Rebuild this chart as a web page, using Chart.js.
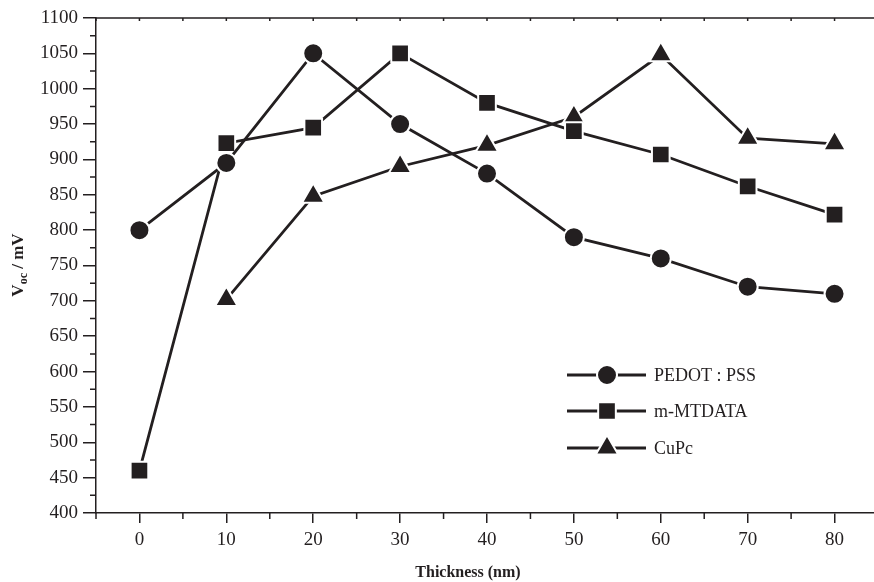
<!DOCTYPE html>
<html>
<head>
<meta charset="utf-8">
<script src="https://cdn.jsdelivr.net/npm/chart.js@4/dist/chart.umd.min.js"></script>
<style>
  html, body { margin: 0; padding: 0; background: #fff; overflow: hidden; }
  #wrap { width: 893px; height: 582px; }
</style>
</head>
<body>
<div id="wrap"><canvas id="myChart" width="893" height="582"></canvas></div>
<script>
const thickness = [0, 10, 20, 30, 40, 50, 60, 70, 80];
const pedotPss = [800, 895, 1050, 950, 880, 790, 760, 720, 710];
const mMtdata = [460, 923, 945, 1050, 980, 940, 907, 862, 822];
const cuPc = [null, 702, 848, 890, 920, 960, 1048, 930, 922];
const seriesNames = ['PEDOT : PSS', 'm-MTDATA', 'CuPc'];
const xTicks = [0, 10, 20, 30, 40, 50, 60, 70, 80];

const ink = '#231f20';
const serif = "'Liberation Serif', 'DejaVu Serif', serif";

function toPoints(vals) {
  return thickness.map((t, i) => ({ x: t, y: vals[i] }));
}

function makeSet(label, vals, style, radius) {
  return {
    label,
    data: toPoints(vals),
    borderColor: ink,
    backgroundColor: ink,
    borderWidth: 2.8,
    pointStyle: style,
    pointRadius: radius,
    pointBorderWidth: 2,
    pointBorderColor: '#ffffff',
    pointBackgroundColor: ink,
    tension: 0,
  };
}

const data = {
  datasets: [
    makeSet(seriesNames[0], pedotPss, 'circle', 10),
    makeSet(seriesNames[1], mMtdata, 'rect', 12.5),
    makeSet(seriesNames[2], cuPc, 'triangle', 13),
  ],
};

// minor ticks, top axis and axis titles
const decor = {
  id: 'decor',
  afterDraw(chart) {
    const ctx = chart.ctx;
    const xs = chart.scales.x;
    const ys = chart.scales.y;
    const area = chart.chartArea;
    ctx.save();
    ctx.strokeStyle = ink;
    ctx.lineWidth = 1.5;
    ctx.beginPath();
    ctx.moveTo(area.left, area.top);
    ctx.lineTo(area.right, area.top);
    for (let v = -5; v <= 80; v += 5) {
      const px = xs.getPixelForValue(v);
      ctx.moveTo(px, area.top);
      ctx.lineTo(px, area.top + 3);
      if (v % 10 !== 0) {
        ctx.moveTo(px, area.bottom);
        ctx.lineTo(px, area.bottom + 6);
      }
    }
    for (let v = 425; v < 1100; v += 50) {
      const py = ys.getPixelForValue(v);
      ctx.moveTo(area.left - 6, py);
      ctx.lineTo(area.left, py);
    }
    ctx.stroke();

    // x title
    ctx.fillStyle = ink;
    ctx.font = 'bold 16px ' + serif;
    ctx.textAlign = 'center';
    ctx.textBaseline = 'middle';
    ctx.fillText('Thickness (nm)', 468, 573);

    // y title with subscript
    ctx.translate(19, 265);
    ctx.rotate(-Math.PI / 2);
    const big = 'bold 17px ' + serif;
    const small = 'bold 12px ' + serif;
    ctx.font = big;
    const w1 = ctx.measureText('V').width;
    const w3 = ctx.measureText(' / mV').width;
    ctx.font = small;
    const w2 = ctx.measureText('oc').width;
    let x0 = -(w1 + w2 + w3) / 2;
    ctx.textAlign = 'left';
    ctx.font = big;
    ctx.fillText('V', x0, 0);
    ctx.font = small;
    ctx.fillText('oc', x0 + w1, 5);
    ctx.font = big;
    ctx.fillText(' / mV', x0 + w1 + w2, 0);
    ctx.restore();

    // legend
    ctx.save();
    const rowsY = [375, 411, 448];
    chart.data.datasets.forEach((ds, i) => {
      const y = rowsY[i];
      ctx.strokeStyle = ink;
      ctx.lineWidth = 2.8;
      ctx.beginPath();
      ctx.moveTo(567, y);
      ctx.lineTo(646, y);
      ctx.stroke();
      ctx.fillStyle = ink;
      ctx.strokeStyle = '#ffffff';
      ctx.lineWidth = 2;
      Chart.helpers.drawPoint(ctx, {
        pointStyle: ds.pointStyle,
        radius: ds.pointRadius,
        borderWidth: 2,
        rotation: 0,
      }, 607, y);
      ctx.fillStyle = ink;
      ctx.font = '18px ' + serif;
      ctx.textAlign = 'left';
      ctx.textBaseline = 'middle';
      ctx.fillText(ds.label, 654, y + 1);
    });
    ctx.restore();
  },
};

const ctx = document.getElementById('myChart').getContext('2d');
window.myChart = new Chart(ctx, {
  type: 'line',
  data,
  options: {
    responsive: false,
    animation: false,
    layout: { padding: { top: 18, right: 1, left: 0, bottom: 0 } },
    plugins: { legend: { display: false }, tooltip: { enabled: false } },
    scales: {
      x: {
        type: 'linear',
        min: -5,
        max: 85,
        afterBuildTicks(scale) {
          scale.ticks = xTicks.map((v) => ({ value: v }));
        },
        afterFit(scale) {
          scale.height = 69;
        },
        grid: { drawOnChartArea: false, drawTicks: true, tickLength: 10, color: ink, lineWidth: 1.5 },
        border: { color: ink, width: 1.5 },
        ticks: { color: ink, font: { family: serif, size: 19 }, padding: 6, maxRotation: 0 },
      },
      y: {
        min: 400,
        max: 1100,
        afterFit(scale) {
          scale.width = 96;
        },
        grid: { drawOnChartArea: false, drawTicks: true, tickLength: 13, color: ink, lineWidth: 1.5 },
        border: { color: ink, width: 1.5 },
        ticks: {
          stepSize: 50,
          color: ink,
          font: { family: serif, size: 19 },
          padding: 5,
          callback: (v) => String(v),
        },
      },
    },
  },
  plugins: [decor],
});
</script>
</body>
</html>
